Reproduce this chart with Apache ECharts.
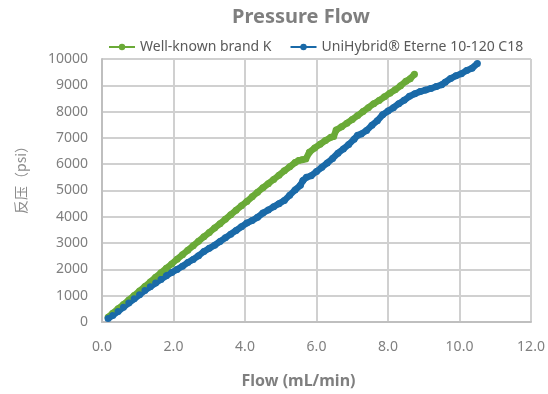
<!DOCTYPE html>
<html>
<head>
<meta charset="utf-8">
<script src="https://cdn.jsdelivr.net/npm/echarts@6/dist/echarts.min.js"></script>
<style>
  html, body { margin: 0; padding: 0; background: #fff; }
  #chart { width: 548px; height: 394px; }
</style>
</head>
<body>
<div id="chart"></div>
<script>
// Well-known brand K (flow mL/min, pressure psi)
var brandK_flow = [0.17, 0.30, 0.45, 0.60, 0.75, 0.90, 1.05, 1.20, 1.35, 1.50, 1.65, 1.80, 1.95, 2.10, 2.25, 2.40, 2.55, 2.70, 2.85, 3.00, 3.15, 3.30, 3.45, 3.60, 3.75, 3.90, 4.05, 4.20, 4.35, 4.50, 4.65, 4.80, 4.95, 5.10, 5.25, 5.40, 5.50, 5.60, 5.70, 5.80, 5.95, 6.10, 6.25, 6.40, 6.48, 6.55, 6.70, 6.85, 7.00, 7.15, 7.30, 7.45, 7.60, 7.75, 7.90, 8.05, 8.20, 8.35, 8.50, 8.62, 8.74];
var brandK_psi = [180, 330, 500, 670, 840, 1010, 1180, 1350, 1520, 1700, 1870, 2040, 2210, 2390, 2560, 2730, 2900, 3070, 3240, 3400, 3570, 3740, 3910, 4080, 4250, 4420, 4580, 4760, 4930, 5100, 5260, 5420, 5580, 5750, 5900, 6060, 6140, 6170, 6200, 6450, 6620, 6760, 6900, 7020, 7050, 7300, 7420, 7560, 7700, 7850, 8000, 8150, 8300, 8420, 8560, 8700, 8830, 8980, 9150, 9250, 9420];

// UniHybrid Eterne 10-120 C18
var eterne_flow = [0.17, 0.30, 0.45, 0.60, 0.75, 0.90, 1.05, 1.20, 1.35, 1.50, 1.65, 1.80, 1.95, 2.10, 2.25, 2.40, 2.55, 2.70, 2.85, 3.00, 3.15, 3.30, 3.45, 3.60, 3.75, 3.90, 4.05, 4.20, 4.35, 4.50, 4.65, 4.80, 4.95, 5.10, 5.25, 5.40, 5.55, 5.62, 5.72, 5.85, 6.00, 6.15, 6.30, 6.45, 6.60, 6.75, 6.90, 7.05, 7.15, 7.25, 7.40, 7.55, 7.70, 7.85, 8.00, 8.15, 8.30, 8.45, 8.60, 8.75, 8.90, 9.05, 9.20, 9.35, 9.50, 9.60, 9.75, 9.90, 10.05, 10.20, 10.35, 10.50];
var eterne_psi = [130, 250, 400, 560, 720, 880, 1040, 1200, 1340, 1480, 1620, 1760, 1880, 2000, 2120, 2260, 2380, 2520, 2680, 2800, 2920, 3060, 3200, 3340, 3480, 3620, 3760, 3860, 3980, 4140, 4260, 4380, 4500, 4620, 4820, 5020, 5200, 5380, 5500, 5560, 5720, 5880, 6050, 6220, 6420, 6580, 6750, 6950, 7100, 7150, 7280, 7480, 7650, 7880, 8020, 8150, 8300, 8430, 8580, 8680, 8760, 8820, 8880, 8950, 9020, 9120, 9260, 9360, 9440, 9560, 9650, 9830];

var seriesNames = ['Well-known brand K', 'UniHybrid\u00AE Eterne 10-120 C18'];
var seriesColors = ['#6aaa37', '#1a6aa8'];

function pairs(xs, ys) {
    return xs.map(function (x, i) { return [x, ys[i]]; });
}

var myChart = echarts.init(document.getElementById('chart'));

var font = 'Noto Sans';

var option = {
    animation: false,
    title: {
        text: 'Pressure Flow',
        left: 227,
        top: 2,
        textStyle: { fontFamily: font, fontSize: 20, fontWeight: 'bold', color: '#7f7f7f' }
    },
    legend: {
        data: seriesNames,
        top: 35,
        left: 103,
        itemWidth: 26,
        itemHeight: 8,
        itemGap: 18,
        lineStyle: { width: 2 },
        itemStyle: { borderWidth: 0 },
        textStyle: { fontFamily: font, fontSize: 14, color: '#595959' }
    },
    grid: { left: 102, right: 17, top: 59, bottom: 71 },
    xAxis: {
        type: 'value',
        min: 0,
        max: 12,
        interval: 2,
        name: 'Flow (mL/min)',
        nameLocation: 'middle',
        nameGap: 51,
        nameTextStyle: { fontFamily: font, fontSize: 16, fontWeight: 'bold', color: '#7f7f7f', padding: [0, 36, 0, 0] },
        axisLine: { lineStyle: { color: '#bfbfbf', width: 2 } },
        axisTick: { show: false },
        axisLabel: {
            margin: 18,
            fontFamily: font, fontSize: 14, color: '#7f7f7f',
            formatter: function (v) { return v.toFixed(1); }
        },
        splitLine: { show: true, lineStyle: { color: '#d0d0d0', width: 2 } }
    },
    yAxis: {
        type: 'value',
        min: 0,
        max: 10000,
        interval: 1000,
        name: '反压（psi）',
        nameLocation: 'middle',
        nameGap: 74,
        nameTextStyle: { fontFamily: 'Noto Sans CJK SC', fontSize: 14, color: '#8c8c8c', padding: [0, 0, 0, 28] },
        axisLine: { show: true, lineStyle: { color: '#bfbfbf', width: 2 } },
        axisTick: { show: false },
        axisLabel: {
            margin: 14, fontFamily: font, fontSize: 14, color: '#7f7f7f',
            formatter: function (v) { return String(v); }
        },
        splitLine: { show: true, lineStyle: { color: '#d0d0d0', width: 2 } }
    },
    series: [
        {
            name: seriesNames[0],
            type: 'line',
            data: pairs(brandK_flow, brandK_psi),
            color: seriesColors[0],
            symbol: 'circle',
            symbolSize: 7,
            showSymbol: true,
            lineStyle: { width: 6.5 }
        },
        {
            name: seriesNames[1],
            type: 'line',
            data: pairs(eterne_flow, eterne_psi),
            color: seriesColors[1],
            symbol: 'circle',
            symbolSize: 7,
            showSymbol: true,
            lineStyle: { width: 6.5 }
        }
    ]
};

myChart.setOption(option);
</script>
</body>
</html>
